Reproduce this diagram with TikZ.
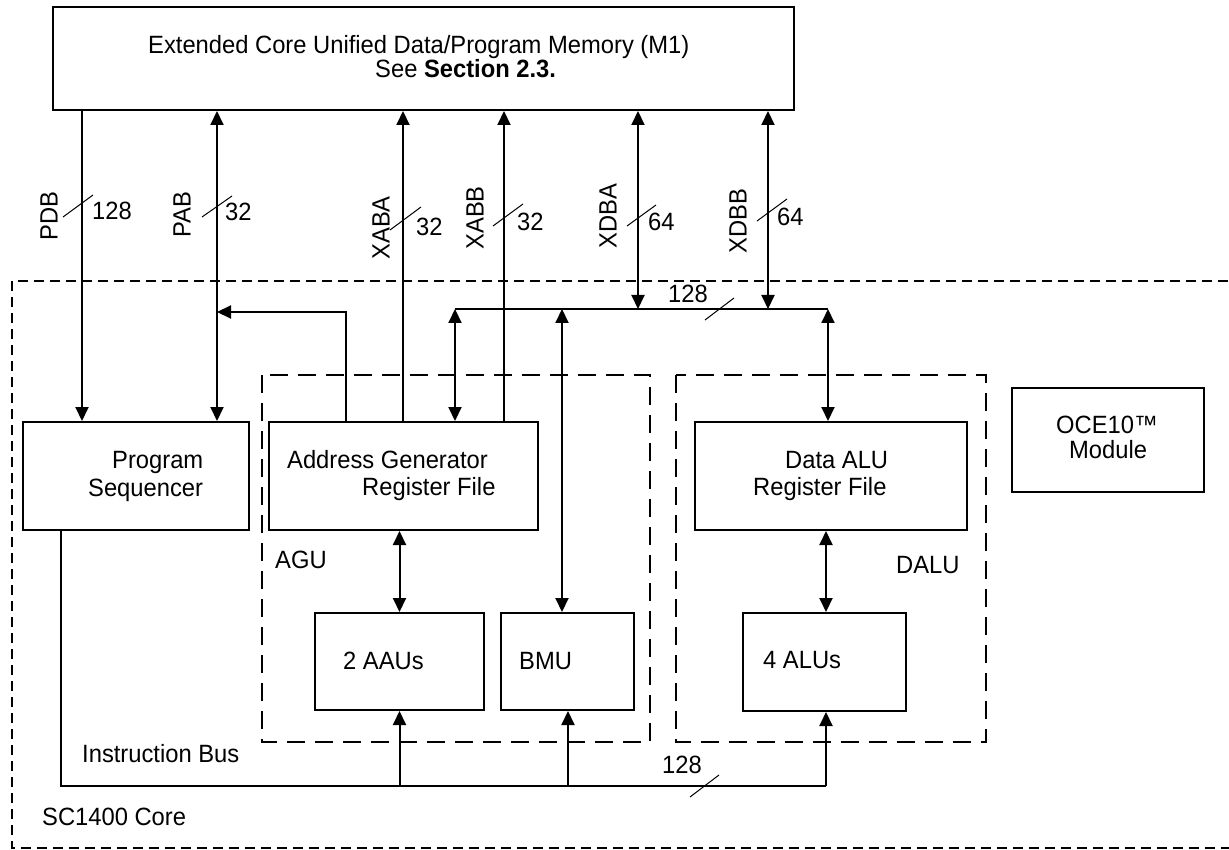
\documentclass[tikz,border=0pt]{standalone}
\usepackage{fontspec}
\setmainfont{Liberation Sans}[FakeStretch=0.95]
\usetikzlibrary{arrows.meta,positioning,calc}

\begin{document}
\begin{tikzpicture}[
  x=1pt, y=-1pt,
  every node/.style={font=\fontsize{25}{28}\selectfont, inner sep=0pt},
  box/.style={draw, line width=2pt},
  txt/.style={anchor=base west},
  bus/.style={line width=2pt},
  arr/.style={bus, -{Triangle[length=14pt,width=13pt]}},
  biarr/.style={bus, {Triangle[length=14pt,width=13pt]}-{Triangle[length=14pt,width=13pt]}},
  slash/.style={line width=1pt},
  unit/.style={line width=2pt, dash pattern=on 18pt off 10pt},
  core/.style={line width=1.6pt, dash pattern=on 10pt off 6pt}
]
\useasboundingbox (0,0) rectangle (1229,850);

% dashed outlines
\draw[core] (12,281) rectangle (1245,848);
\draw[unit] (262,375) rectangle (650,742);
\draw[unit] (676,375) rectangle (986,742);

% blocks
\node[box, minimum width=741, minimum height=103] (mem) at (423.5,58.5) {};
\node[box, minimum width=226, minimum height=108] (ps)  at (136,476) {};
\node[box, minimum width=269, minimum height=108] (agr) at (403.5,476) {};
\node[box, minimum width=272, minimum height=108] (dar) at (831,476) {};
\node[box, minimum width=192, minimum height=104] (oce) at (1108,440) {};
\node[box, minimum width=169, minimum height=97]  (aau) at (399.5,661.5) {};
\node[box, minimum width=133, minimum height=97]  (bmu) at (567.5,661.5) {};
\node[box, minimum width=163, minimum height=98]  (alu) at (824.5,662) {};

% block texts
\node[txt] (mem-a) at (148,54) {Extended Core Unified Data/Program Memory (M1)};
\node[txt] (mem-b) at (375,78) {See \textbf{Section 2.3.}};
\node[txt] (ps-a)  at (112,468) {Program};
\node[txt] (ps-b)  at (88,496)  {Sequencer};
\node[txt] (agr-a) at (287,468) {Address Generator};
\node[txt] (agr-b) at (362,495) {Register File};
\node[txt] (dar-a) at (785,468) {Data ALU};
\node[txt] (dar-b) at (753,495) {Register File};
\node[txt] (oce-a) at (1056,433) {OCE10™};
\node[txt] (oce-b) at (1069,458) {Module};
\node[txt] (aau-t) at (343,669) {2 AAUs};
\node[txt] (bmu-t) at (519,669) {BMU};
\node[txt] (alu-t) at (763,668) {4 ALUs};
\node[txt] (agu)   at (275,568) {AGU};
\node[txt] (dalu)  at (896,573) {DALU};
\node[txt] (ib)    at (82,762)  {Instruction Bus};
\node[txt] (core)  at (42,825)  {SC1400 Core};

% bus positions
\coordinate (pdb)  at (82,0);
\coordinate (pab)  at (217,0);
\coordinate (xaba) at (403,0);
\coordinate (xabb) at (504,0);
\coordinate (xdba) at (638,0);
\coordinate (xdbb) at (768,0);
\coordinate (busL) at (455,309);
\coordinate (busR) at (828,309);
\coordinate (pctap) at (346,312);
\coordinate (bmux) at (562,0);
\coordinate (ibL)  at (61,786);
\coordinate (ibR)  at (826,786);

% memory buses
\draw[arr]   (mem.south -| pdb) -- (ps.north -| pdb);
\draw[biarr] (mem.south -| pab) -- (ps.north -| pab);
\draw[arr]   (agr.north -| pctap) -- (pctap) -- (pctap -| pab);
\draw[arr]   (agr.north -| xaba) -- (mem.south -| xaba);
\draw[arr]   (agr.north -| xabb) -- (mem.south -| xabb);
\draw[biarr] (mem.south -| xdba) -- (busL -| xdba);
\draw[biarr] (mem.south -| xdbb) -- (busL -| xdbb);

% internal data bus
\draw[line width=2.4pt] (busL) -- (busR);
\draw[biarr] (busL) -- (agr.north -| busL);
\draw[biarr] (busL -| bmux) -- (bmu.north -| bmux);
\draw[biarr] (busR) -- (dar.north -| busR);
\draw[biarr] (agr.south -| aau) -- (aau.north);
\draw[biarr] (dar.south -| ibR) -- (alu.north -| ibR);

% instruction bus
\draw[line width=2.4pt] (ps.south -| ibL) -- (ibL) -- (ibR);
\draw[arr] (ibR) -- (alu.south -| ibR);
\draw[arr] (ibL -| aau) -- (aau.south);
\draw[arr] (ibL -| 568,0) -- (bmu.south -| 568,0);

% bus names and widths
\node[rotate=90] (pdb-n)  at (49,216)  {PDB};
\node[rotate=90] (pab-n)  at (182,215) {PAB};
\node[rotate=90] (xaba-n) at (381,228) {XABA};
\node[rotate=90] (xabb-n) at (475,218) {XABB};
\node[rotate=90] (xdba-n) at (608,216) {XDBA};
\node[rotate=90] (xdbb-n) at (738,221) {XDBB};
\node[txt] (pdb-w)  at (92,220)  {128};
\node[txt] (pab-w)  at (225,221) {32};
\node[txt] (xaba-w) at (416,236) {32};
\node[txt] (xabb-w) at (517,231) {32};
\node[txt] (xdba-w) at (648,231) {64};
\node[txt] (xdbb-w) at (777,226) {64};
\node[txt] (bus-w)  at (668,303) {128};
\node[txt] (ib-w)   at (662,773) {128};
\draw[slash] (63,217) -- (93,195);
\draw[slash] (202,217) -- (232,196);
\draw[slash] (390,230) -- (421,207);
\draw[slash] (493,226) -- (523,204);
\draw[slash] (627,226) -- (656,205);
\draw[slash] (757,221) -- (787,199);
\draw[slash] (705,320) -- (734,298);
\draw[slash] (690,797) -- (719,775);
\end{tikzpicture}
\end{document}
